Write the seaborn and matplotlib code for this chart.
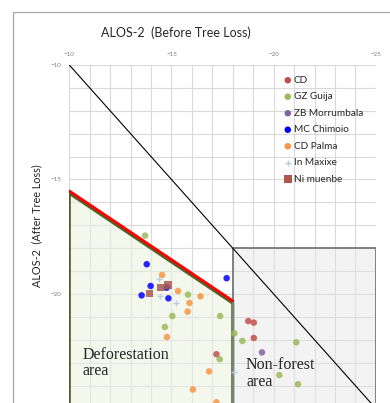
# ALOS-2 backscatter before vs after tree loss, by site
import matplotlib
matplotlib.use('Agg')
import matplotlib.pyplot as plt
import seaborn as sns
import pandas as pd
from matplotlib.patches import Polygon, Rectangle
from matplotlib.ticker import MultipleLocator, FixedLocator

# Data (x = before, y = after, dB)
cd_x = [-18.76, -19.03, -19.03, -17.20]
cd_y = [-21.18, -21.25, -21.92, -22.63]

gz_x = [-13.71, -15.81, -15.04, -17.38, -14.68, -17.36, -18.08, -18.47, -21.11, -20.28, -21.19]
gz_y = [-17.45, -20.03, -20.96, -20.96, -21.44, -22.85, -21.72, -22.05, -22.11, -23.54, -23.94]

zb_x = [-19.43]
zb_y = [-22.55]

mc_x = [-13.79, -17.70, -13.98, -14.77, -13.54, -14.85]
mc_y = [-18.70, -19.31, -19.65, -19.72, -20.06, -20.19]

palma_x = [-14.54, -15.32, -16.42, -15.88, -15.79, -14.78, -16.84, -16.05, -17.20]
palma_y = [-19.17, -19.87, -20.10, -20.39, -20.77, -21.88, -23.38, -24.17, -24.73]

maxixe_x = [-14.39, -14.45, -15.21, -18.06]
maxixe_y = [-19.36, -20.09, -20.39, -23.39]

ni_x = [-14.82, -14.50, -13.92]
ni_y = [-19.61, -19.72, -19.97]

sites = ['CD', 'GZ Guija', 'ZB Morrumbala', 'MC Chimoio', 'CD Palma', 'In Maxixe', 'Ni muenbe']
xs = [cd_x, gz_x, zb_x, mc_x, palma_x, maxixe_x, ni_x]
ys = [cd_y, gz_y, zb_y, mc_y, palma_y, maxixe_y, ni_y]
colors = ['#C0504D', '#9BBB59', '#8064A2', '#0000FF', '#F79646', '#B9CDE5', '#A9574F']
markers = ['o', 'o', 'o', 'o', 'o', '+', 's']

x_ticks = [-10, -15, -20, -25]
y_ticks = [-10, -15, -20]

# region boundaries
defor_top = [(-10, -15.5), (-18, -20.3)]
nonforest_corner = (-18, -18)

sns.set_style('white')
plt.rcParams['font.family'] = ['Lato', 'DejaVu Sans']

fig = plt.figure(figsize=(3.9, 4.03), dpi=100)
ax = fig.add_axes([0.1777, -0.01365, 0.7859, 0.8524])

# outer chart frame
fig.patches.append(Rectangle((12.7 / 390, -0.1), 1.2, 1 - 11.7 / 403 + 0.1,
                             transform=fig.transFigure, fill=False,
                             edgecolor='#A6A6A6', lw=0.9))

# deforestation area (green) and non-forest area (gray)
ax.add_patch(Polygon([(-10, -15.6), (-18, -20.4), (-18, -27), (-10, -27)],
                     closed=True, facecolor='#EBF1DE', alpha=0.55,
                     edgecolor='none', zorder=1))
ax.plot([-10, -10, -18, -18], [-27, -15.6, -20.4, -27], color='#4F6228', lw=2.2,
        solid_joinstyle='miter', zorder=3)
ax.plot([p[0] for p in defor_top], [p[1] for p in defor_top], color='#FF0000', lw=2, zorder=4)

ax.add_patch(Rectangle(nonforest_corner, -7, -9, facecolor='#E6E6E6', alpha=0.45,
                       edgecolor='none', zorder=1))
ax.add_patch(Rectangle(nonforest_corner, -7, -9, fill=False, edgecolor='#7F7F7F',
                       lw=1.4, zorder=3))

# 1:1 line
ax.plot([-10, -25], [-10, -25], color='black', lw=0.8, zorder=3)

# points
for name, x, y, c, m in zip(sites, xs, ys, colors, markers):
    df = pd.DataFrame({'before': x, 'after': y})
    if m == '+':
        sns.scatterplot(data=df, x='before', y='after', ax=ax, marker='+', color=c,
                        s=22, linewidth=1, label=name, zorder=5)
    else:
        sns.scatterplot(data=df, x='before', y='after', ax=ax, marker=m, color=c,
                        s=22 if m == 'o' else 30, alpha=0.85, edgecolor='none',
                        label=name, zorder=5)

ax.text(-10.67, -22.3, 'Deforestation\narea', family='Liberation Serif', fontsize=11.5,
        va='top', ha='left', linespacing=1.05, color='#262626', zorder=6)
ax.text(-18.65, -22.75, 'Non-forest\narea', family='Liberation Serif', fontsize=11.5,
        va='top', ha='left', linespacing=1.05, color='#262626', zorder=6)

# axes
ax.set_xlim(-10, -25)
ax.set_ylim(-25, -10)
ax.xaxis.set_major_locator(FixedLocator(x_ticks))
ax.yaxis.set_major_locator(FixedLocator(y_ticks))
ax.xaxis.set_minor_locator(MultipleLocator(1))
ax.yaxis.set_minor_locator(MultipleLocator(1))
ax.xaxis.tick_top()
ax.grid(True, which='both', color='#D9D9D9', lw=0.8)
ax.tick_params(which='both', length=0)
ax.tick_params(axis='x', labelsize=4.5, pad=5.5, labelcolor='#7F7F7F')
ax.tick_params(axis='y', labelsize=4.5, pad=6, labelcolor='#7F7F7F')
ax.set_xlabel('')
ax.set_ylabel('')
for s in ax.spines.values():
    s.set_visible(False)

leg = ax.legend(loc='upper left', bbox_to_anchor=(0.69, 0.98), frameon=False,
                fontsize=7.2, handlelength=0.6, handletextpad=0.3,
                labelspacing=0.75, borderaxespad=0)
for h in leg.legend_handles:
    h.set_alpha(1)

fig.text(176 / 390, 1 - 33 / 403, 'ALOS-2  (Before Tree Loss)', ha='center', va='center',
         fontsize=9, color='#262626')
fig.text(37 / 390, 1 - 226 / 403, 'ALOS-2  (After Tree Loss)', ha='center', va='center',
         rotation=90, fontsize=7.8, color='#262626')

fig.savefig('out.png', dpi=100)
